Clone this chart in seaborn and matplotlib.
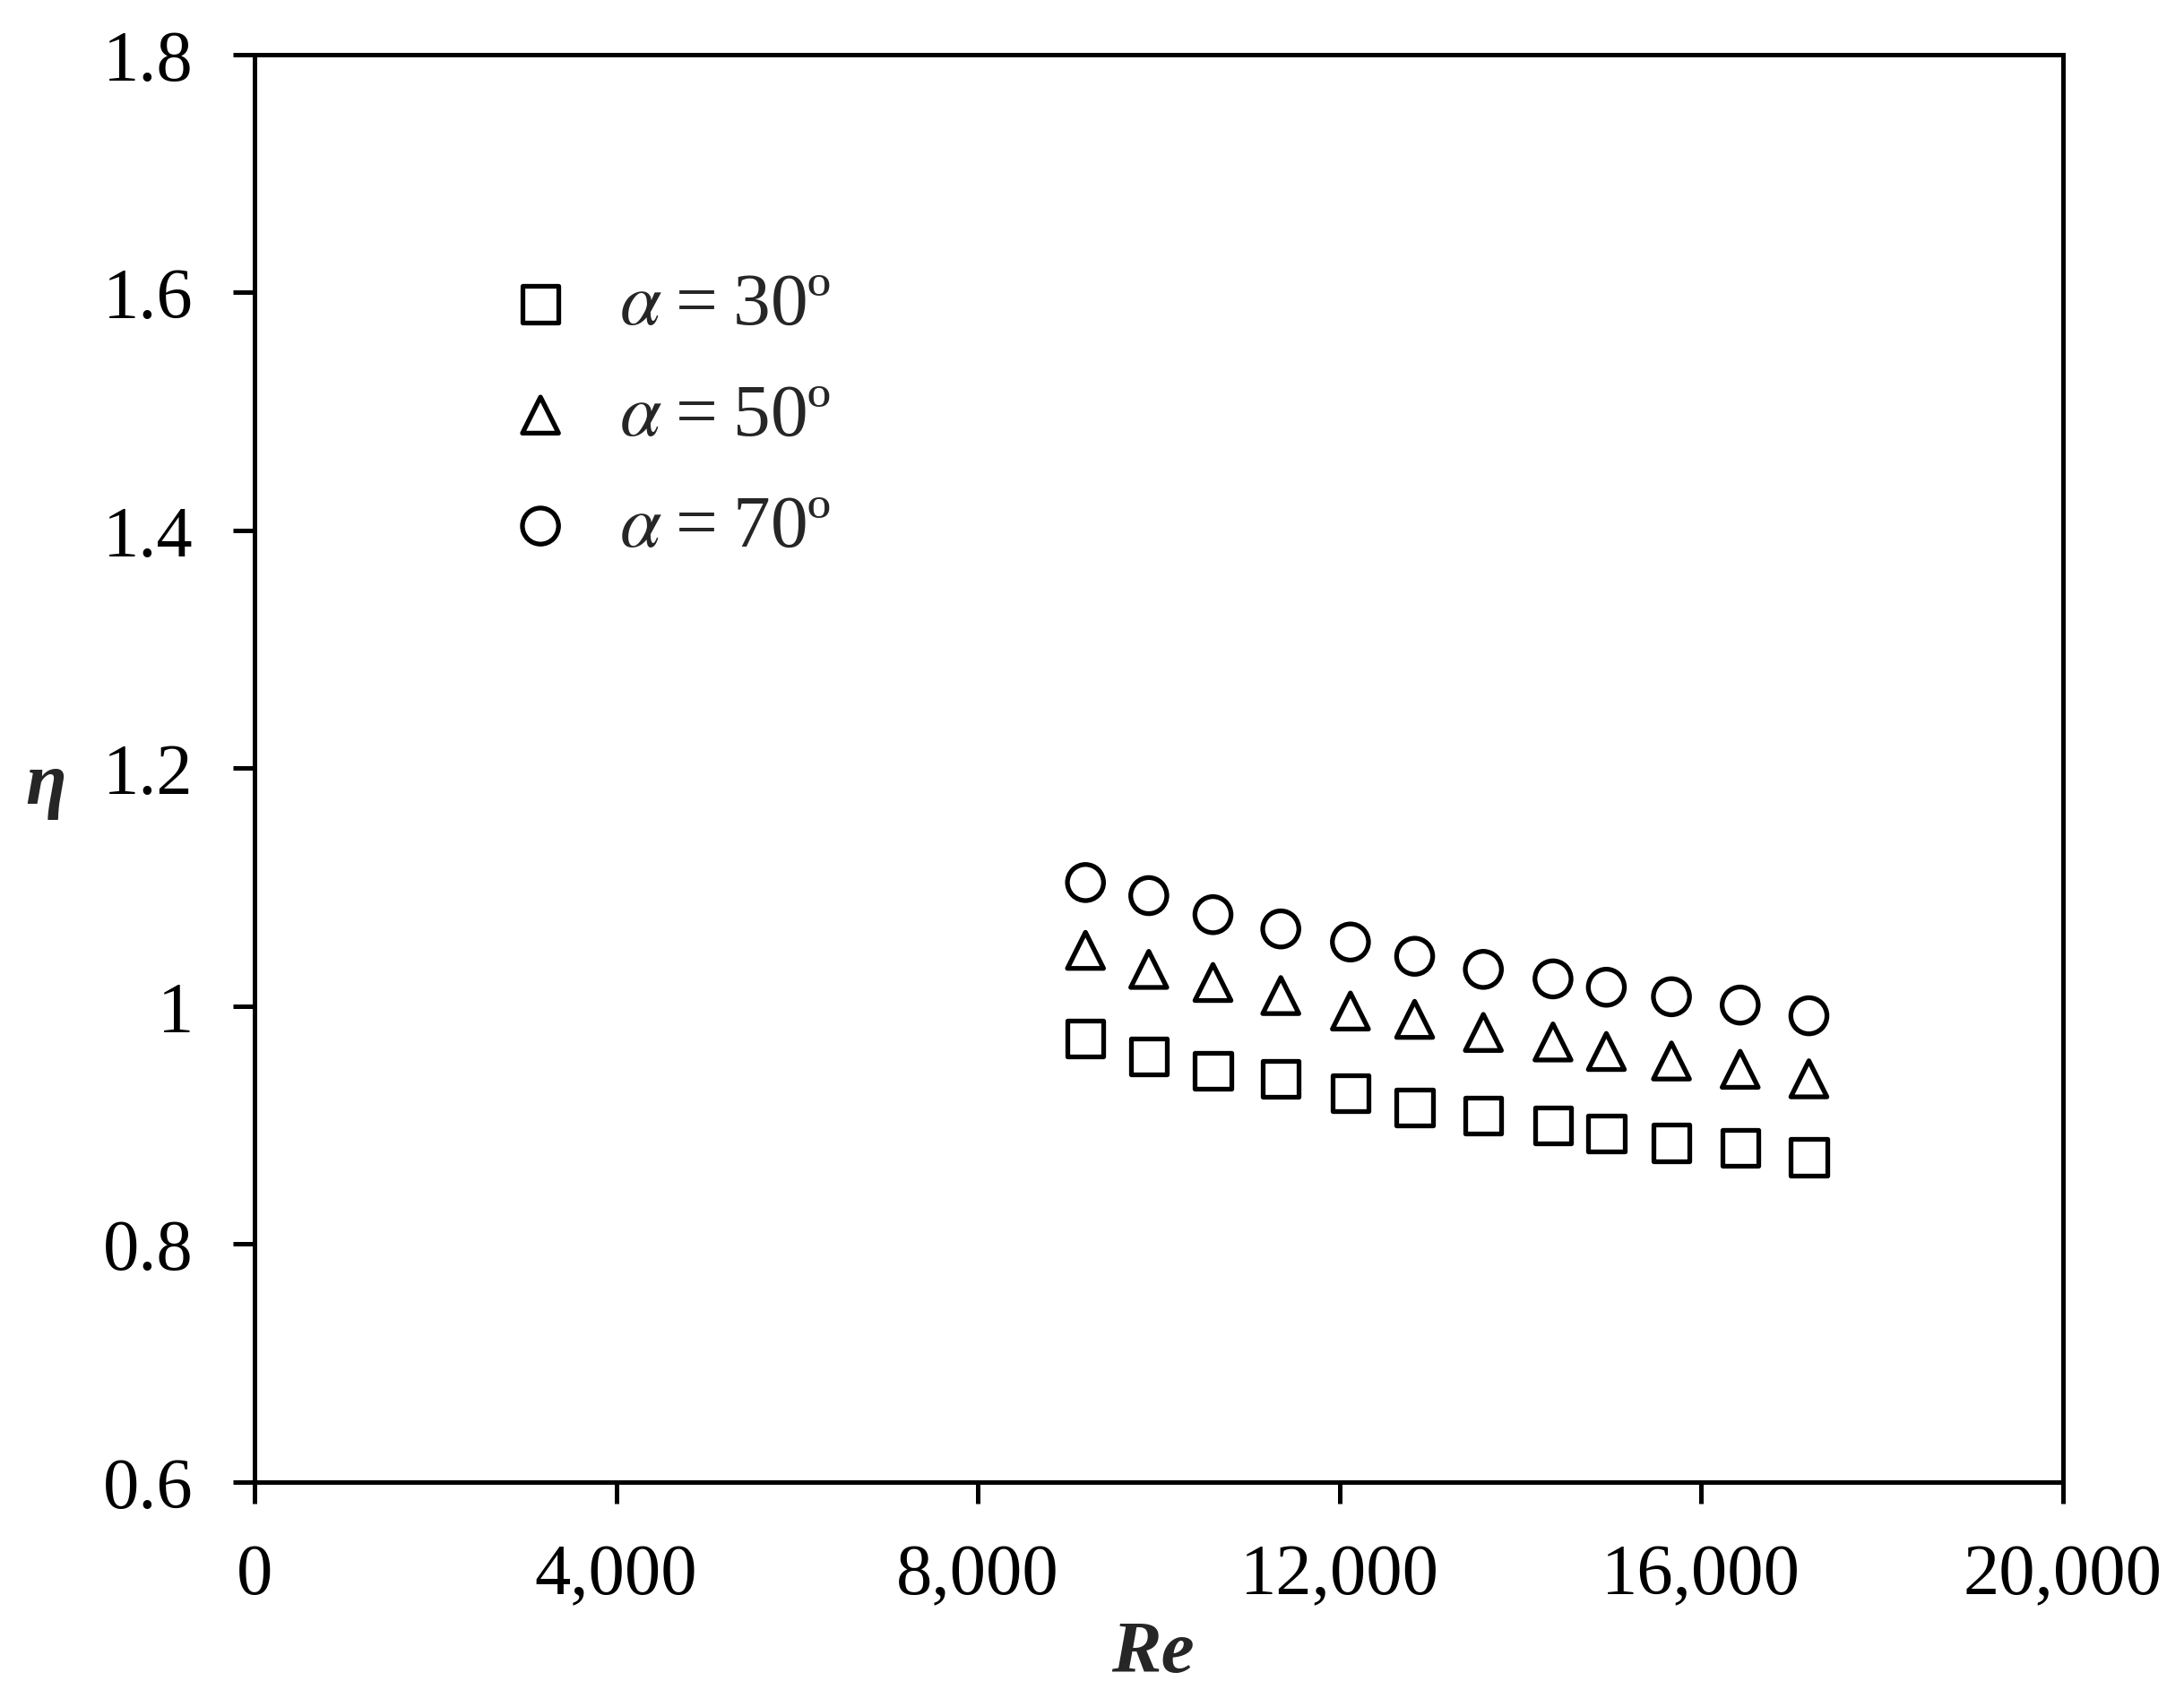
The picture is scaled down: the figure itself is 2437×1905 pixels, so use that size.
import numpy as np
import pandas as pd
import matplotlib
matplotlib.use("Agg")
import matplotlib.pyplot as plt
import seaborn as sns
from matplotlib.ticker import FuncFormatter

# Daten
re_werte = [9190, 9890, 10600, 11350, 12120, 12830, 13590, 14360, 14950, 15670, 16430, 17190]
eta_30 = [0.973, 0.958, 0.946, 0.939, 0.927, 0.915, 0.908, 0.900, 0.893, 0.885, 0.881, 0.873]
eta_50 = [1.047, 1.031, 1.020, 1.009, 0.996, 0.989, 0.978, 0.970, 0.962, 0.954, 0.947, 0.939]
eta_70 = [1.104, 1.093, 1.077, 1.065, 1.054, 1.042, 1.031, 1.023, 1.016, 1.008, 1.001, 0.992]
winkel = ["30", "50", "70"]
marker = ["s", "^", "o"]

df = pd.DataFrame({
    "Re": re_werte * 3,
    "eta": eta_30 + eta_50 + eta_70,
    "alpha": [w for w in winkel for _ in re_werte],
})

sns.set_style("white")
plt.rcParams["font.family"] = ["Liberation Serif", "DejaVu Serif"]
plt.rcParams["mathtext.fontset"] = "stix"

fig = plt.figure(figsize=(24.37, 19.06), dpi=100)
ax = fig.add_axes([0.1165, 0.1317, 0.8281, 0.8358])

for w, m in zip(winkel, marker):
    teil = df[df["alpha"] == w]
    sns.scatterplot(data=teil, x="Re", y="eta", marker=m, s=29**2,
                    facecolors="none", edgecolor="black", linewidth=3.8,
                    label=r"$\alpha$" + "\u2009=\u2009" + w + "º", ax=ax)

ax.set_xlim(0, 20000)
ax.set_ylim(0.6, 1.8)
ax.set_xticks(np.arange(0, 20001, 4000))
ax.set_yticks(np.arange(0.6, 1.81, 0.2))
ax.xaxis.set_major_formatter(FuncFormatter(lambda v, p: f"{int(v):,}"))
ax.yaxis.set_major_formatter(FuncFormatter(lambda v, p: f"{v:g}"))

for s in ax.spines.values():
    s.set_linewidth(3.6)
    s.set_color("black")
ax.tick_params(direction="out", length=17, width=3.6, pad=32,
               labelsize=58, colors="black", left=True, bottom=True)

ax.set_xlabel("Re", fontsize=60, fontstyle="italic", fontweight="bold")
ax.xaxis.set_label_coords(0.497, -0.12)
ax.xaxis.label.set_va("center")
ax.set_ylabel("η", fontsize=60, fontstyle="italic", fontweight="bold", rotation=0)
ax.yaxis.set_label_coords(-0.1155, 0.488)
ax.yaxis.label.set_va("center")
ax.yaxis.label.set_ha("center")

leg = ax.legend(loc="upper left", bbox_to_anchor=(0.121, 0.869), frameon=False,
                fontsize=60, handlelength=1.0, handletextpad=0.56,
                labelspacing=0.57, borderaxespad=0, markerscale=1.0)

fig.savefig("out.png", dpi=100, facecolor="white")
